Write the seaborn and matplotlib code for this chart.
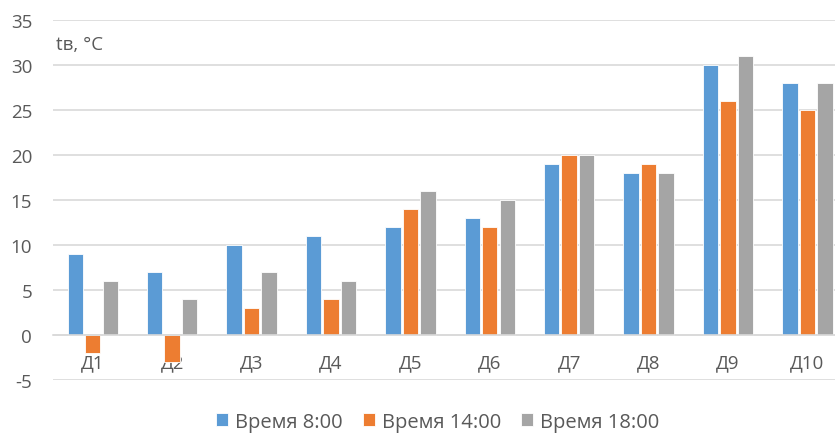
import matplotlib
matplotlib.use("Agg")
import matplotlib.pyplot as plt
import pandas as pd
import seaborn as sns

# Data
days = ["Д1", "Д2", "Д3", "Д4", "Д5", "Д6", "Д7", "Д8", "Д9", "Д10"]
t_0800 = [9, 7, 10, 11, 12, 13, 19, 18, 30, 28]
t_1400 = [-2, -3, 3, 4, 14, 12, 20, 19, 26, 25]
t_1800 = [6, 4, 7, 6, 16, 15, 20, 18, 31, 28]
series = ["Время 8:00", "Время 14:00", "Время 18:00"]
colors = ["#5B9BD5", "#ED7D31", "#A5A5A5"]
y_ticks = [-5, 0, 5, 10, 15, 20, 25, 30, 35]

df = pd.DataFrame({
    "day": days * 3,
    "series": [series[0]] * len(days) + [series[1]] * len(days) + [series[2]] * len(days),
    "temp": t_0800 + t_1400 + t_1800,
})

sns.set_theme(style="white")
plt.rcParams["font.family"] = ["Open Sans", "DejaVu Sans"]
text_color = "#595959"
grid_color = "#D9D9D9"

fig = plt.figure(figsize=(8.35, 4.35), dpi=100)
# axes runs past the right edge, as in the cropped reference
ax = fig.add_axes([0.0635, 0.124, 0.951, 0.828])

sns.barplot(data=df, x="day", y="temp", hue="series", palette=colors,
            saturation=1, width=0.66, gap=0.12, edgecolor="white", linewidth=0.6,
            order=days, hue_order=series, ax=ax)

ax.set_xlim(-0.5, len(days) - 0.5)
ax.set_ylim(-5, 35)
ax.set_yticks(y_ticks)
ax.set_yticklabels([str(v) for v in y_ticks])
ax.yaxis.grid(True, color=grid_color, linewidth=1.2)
ax.set_axisbelow(True)
ax.set_xlabel("")
ax.set_ylabel("")

for side in ["top", "right", "left"]:
    ax.spines[side].set_visible(False)
ax.spines["bottom"].set_position(("data", 0))
ax.spines["bottom"].set_color(grid_color)
ax.spines["bottom"].set_linewidth(1.2)

ax.tick_params(axis="y", length=0, pad=15, labelsize=13.5, labelcolor=text_color)
ax.tick_params(axis="x", length=0, pad=13, labelsize=13.5, labelcolor=text_color)

ax.text(0.004, 0.933, "tв, °C", transform=ax.transAxes, fontsize=13.5,
        color=text_color, ha="left", va="center")

ax.legend_.remove()
handles, labels = ax.get_legend_handles_labels()
fig.legend(handles, labels, loc="center", bbox_to_anchor=(0.524, 0.028),
           ncol=3, frameon=False, fontsize=14.5, labelcolor=text_color,
           handlelength=0.6, handleheight=0.6, handletextpad=0.35,
           columnspacing=1.0, borderpad=0.1)

fig.savefig("out.png", dpi=100)
